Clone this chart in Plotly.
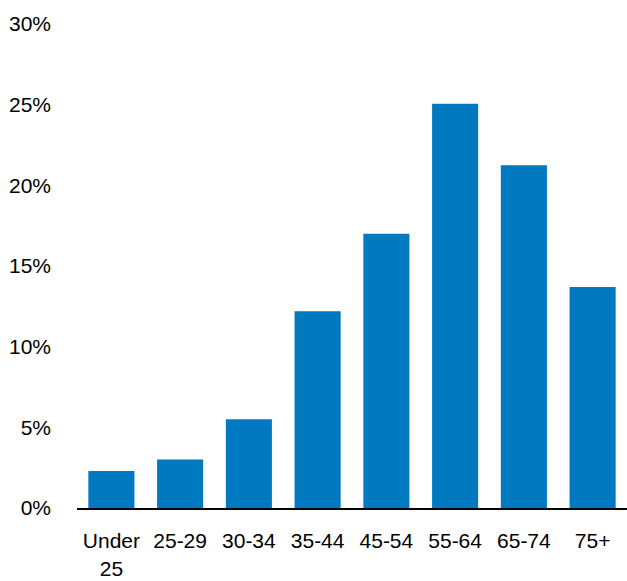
import plotly.graph_objects as go

categories = ["Under<br>25", "25-29", "30-34", "35-44", "45-54", "55-64", "65-74", "75+"]
values = [2.3, 3.0, 5.5, 12.2, 17.0, 25.05, 21.25, 13.7]
y_ticks = [0, 5, 10, 15, 20, 25, 30]
y_tick_labels = ["0%", "5%", "10%", "15%", "20%", "25%", "30%"]

fig = go.Figure(go.Bar(
    x=categories, y=values,
    marker=dict(color="#0079C1", line=dict(width=0)),
))

font = dict(family="Liberation Sans, Arial, sans-serif", size=21, color="#000000")

fig.update_layout(
    width=627, height=581,
    margin=dict(l=77, r=0, t=24, b=73),
    paper_bgcolor="white", plot_bgcolor="white",
    bargap=0.33,
    showlegend=False,
    font=font,
)
fig.update_xaxes(
    showline=True, linecolor="black", linewidth=2,
    showgrid=False, ticks="", ticklabelstandoff=13,
    tickfont=font,
)
fig.update_yaxes(
    range=[0, 30], tickvals=y_ticks, ticktext=y_tick_labels,
    showgrid=False, zeroline=False, showline=False, ticks="",
    ticklabelstandoff=25, tickfont=font,
)

fig.write_html("out.html")
